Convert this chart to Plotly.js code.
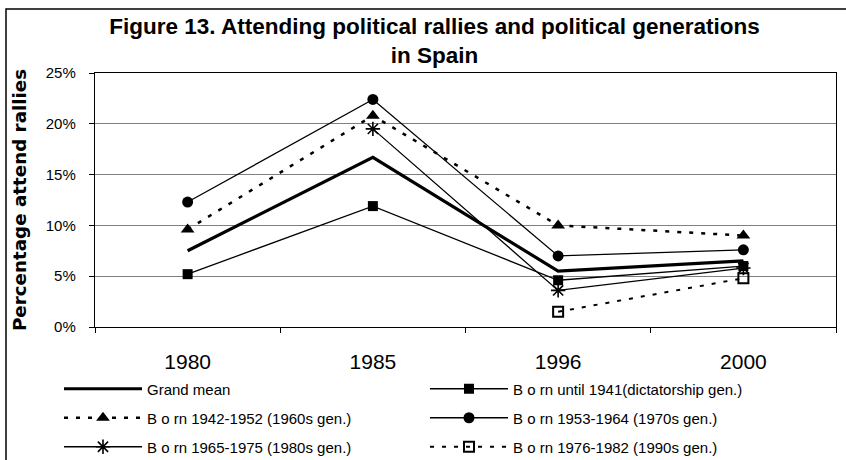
<!DOCTYPE html>
<html>
<head>
<meta charset="utf-8">
<script src="https://cdn.plot.ly/plotly-3.0.1.min.js"></script>
<style>html,body{margin:0;padding:0;background:#fff;}#chart{width:846px;height:460px;}</style>
</head>
<body>
<div id="chart"></div>
<script>
// Data (percent attending political rallies)
const years = ["1980", "1985", "1996", "2000"];
const grandMean = [7.5, 16.7, 5.5, 6.5];
const bornUntil1941 = [5.2, 11.9, 4.6, 6.0];
const born1942_1952 = [9.6, 20.8, 10.0, 9.0];
const born1953_1964 = [12.3, 22.4, 7.0, 7.6];
const born1965_1975 = [null, 19.5, 3.6, 5.8];
const born1976_1982 = [null, null, 1.5, 4.8];

const seriesNames = [
  "Grand mean",
  "B o rn until 1941(dictatorship gen.)",
  "B o rn 1942-1952 (1960s gen.)",
  "B o rn 1953-1964 (1970s gen.)",
  "B o rn 1965-1975 (1980s gen.)",
  "B o rn 1976-1982 (1990s gen.)"
];

const FONT = "Liberation Sans, Arial, sans-serif";

const traces = [
  {x: years, y: grandMean, name: seriesNames[0], mode: "lines", legend: "legend",
   line: {color: "#000", width: 3.2}},
  {x: years, y: bornUntil1941, name: seriesNames[1], mode: "lines+markers", legend: "legend",
   line: {color: "#000", width: 1.3},
   marker: {symbol: "square", size: 10, color: "#000"}},
  {x: years, y: born1942_1952, name: seriesNames[2], mode: "lines+markers", legend: "legend2",
   line: {color: "#000", width: 2.5, dash: "4px,8px"},
   marker: {symbol: "triangle-up", size: 12, color: "#000"}},
  {x: years, y: born1953_1964, name: seriesNames[3], mode: "lines+markers", legend: "legend2",
   line: {color: "#000", width: 1.3},
   marker: {symbol: "circle", size: 11, color: "#000"}},
  {x: years, y: born1965_1975, name: seriesNames[4], mode: "lines+markers", legend: "legend3",
   line: {color: "#000", width: 1.3},
   marker: {symbol: "asterisk-open", size: 12, color: "#000", line: {color: "#000", width: 1.6}}},
  {x: years, y: born1976_1982, name: seriesNames[5], mode: "lines+markers", legend: "legend3",
   line: {color: "#000", width: 2, dash: "4px,8px"},
   marker: {symbol: "square-open", size: 10, color: "#000", line: {color: "#000", width: 2}}}
];

function legendRow(yPaper) {
  return {
    orientation: "h",
    x: -0.0486, xanchor: "left",
    y: yPaper, yanchor: "top",
    entrywidth: 273, entrywidthmode: "pixels",
    itemwidth: 78,
    font: {size: 15, family: FONT, color: "#000"},
    bgcolor: "rgba(0,0,0,0)", borderwidth: 0,
    traceorder: "normal"
  };
}

const layout = {
  width: 846, height: 460,
  margin: {l: 95, r: 10, t: 73, b: 133, autoexpand: false},
  paper_bgcolor: "#fff", plot_bgcolor: "#fff",
  font: {family: FONT, color: "#000"},
  title: {
    text: "<b>Figure 13. Attending political rallies and political generations<br>in Spain</b>",
    font: {family: FONT, size: 22.5, color: "#000"},
    x: 0.5136, xanchor: "center", xref: "container",
    y: 0.926, yanchor: "middle", yref: "container"
  },
  showlegend: true,
  legend: legendRow(-0.1792),
  legend2: legendRow(-0.2933),
  legend3: legendRow(-0.4075),
  xaxis: {
    type: "category",
    range: [-0.5, 3.5],
    tickson: "boundaries",
    ticks: "outside", ticklen: 5, tickcolor: "#000",
    showline: true, linecolor: "#000", linewidth: 1.2, mirror: true,
    showgrid: false, zeroline: false,
    tickfont: {size: 21, family: FONT, color: "#000"},
    ticklabelstandoff: 16
  },
  yaxis: {
    range: [0, 25], dtick: 5, ticksuffix: "%",
    ticks: "outside", ticklen: 5, tickcolor: "#000",
    showline: true, linecolor: "#000", linewidth: 1.2, mirror: true,
    showgrid: true, gridcolor: "#808080", gridwidth: 1.2,
    zeroline: false,
    tickfont: {size: 15, family: FONT, color: "#000"},
    ticklabelstandoff: 10,
    title: {
      text: "<b>Percentage attend rallies</b>",
      font: {family: "DejaVu Sans, sans-serif", size: 18.3, color: "#000"},
      standoff: 14
    }
  },
  shapes: [
    {type: "rect", xref: "paper", yref: "paper",
     x0: -0.1201, x1: 1.03, y0: -0.56, y1: 1.252,
     line: {color: "#000", width: 1.5}, fillcolor: "rgba(0,0,0,0)", layer: "below"}
  ]
};

Plotly.newPlot("chart", traces, layout, {staticPlot: true, displayModeBar: false});
</script>
</body>
</html>
